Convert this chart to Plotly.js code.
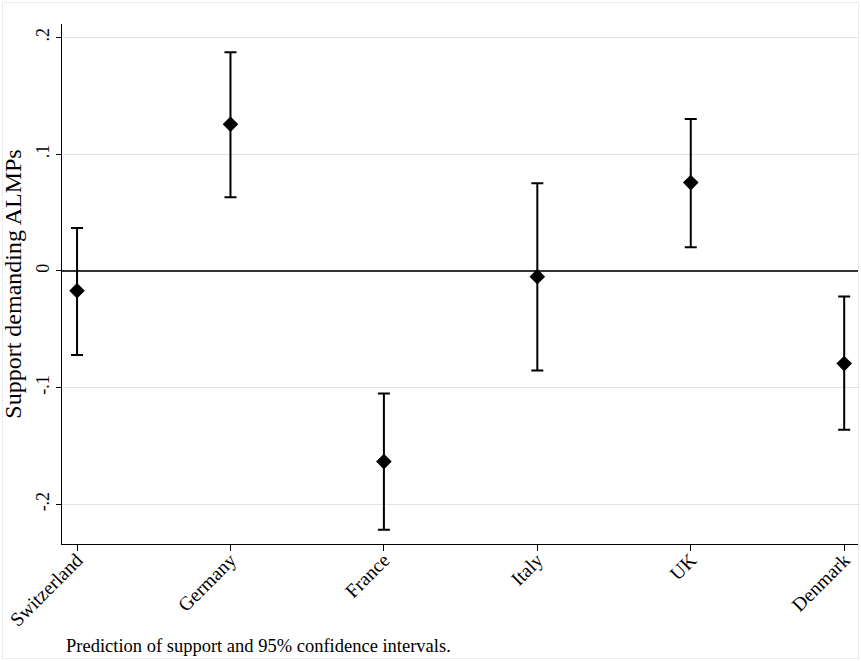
<!DOCTYPE html>
<html>
<head>
<meta charset="utf-8">
<script src="https://cdn.plot.ly/plotly-3.0.1.min.js"></script>
<style>
  body { margin: 0; padding: 0; background: #fff; }
  #wrap { position: relative; width: 861px; height: 661px; }
  #chart { width: 861px; height: 661px; }
  #frame { position: absolute; left: 2px; top: 2px; width: 855px; height: 655px;
           border: 1px dotted #d8d8d8; pointer-events: none; }
</style>
</head>
<body>
<div id="wrap">
  <div id="chart"></div>
  <div id="frame"></div>
</div>
<script>
const countries = ["Switzerland", "Germany", "France", "Italy", "UK", "Denmark"];
const prediction = [-0.017, 0.1257, -0.1634, -0.0049, 0.0757, -0.0794];
const upperCI = [0.0368, 0.1874, -0.1051, 0.0751, 0.1302, -0.0220];
const lowerCI = [-0.0720, 0.0631, -0.2217, -0.0854, 0.0203, -0.1360];
const yTickVals = [-0.2, -0.1, 0, 0.1, 0.2];
const yTickText = ["-.2", "-.1", "0", ".1", ".2"];
const yTitle = "Support demanding ALMPs";
const caption = "Prediction of support and 95% confidence intervals.";

const errPlus = upperCI.map((u, i) => u - prediction[i]);
const errMinus = lowerCI.map((l, i) => prediction[i] - l);

const font = "Liberation Serif, Times New Roman, serif";

const trace = {
  type: "scatter",
  mode: "markers",
  x: countries,
  y: prediction,
  marker: { symbol: "diamond", size: 12, color: "#000" },
  error_y: {
    type: "data",
    symmetric: false,
    array: errPlus,
    arrayminus: errMinus,
    color: "#000",
    thickness: 2,
    width: 6
  },
  hoverinfo: "x+y",
  showlegend: false
};

const layout = {
  width: 861,
  height: 661,
  margin: { l: 62, r: 3, t: 24, b: 117 },
  paper_bgcolor: "#fff",
  plot_bgcolor: "#fff",
  font: { family: font, color: "#000", size: 18 },
  showlegend: false,
  xaxis: {
    type: "category",
    range: [-0.098, 5.09],
    showgrid: false,
    zeroline: false,
    showline: true,
    linecolor: "#000",
    linewidth: 1,
    ticks: "outside",
    ticklen: 6,
    tickcolor: "#000",
    tickangle: -45,
    ticklabelstandoff: -10,
    tickfont: { family: font, size: 19.5, color: "#000" },
    fixedrange: true
  },
  yaxis: {
    range: [-0.234, 0.2116],
    tickvals: yTickVals,
    ticktext: yTickText,
    showgrid: true,
    gridcolor: "#e3e3e3",
    gridwidth: 1,
    zeroline: true,
    zerolinecolor: "#333",
    zerolinewidth: 1.5,
    showline: true,
    linecolor: "#000",
    linewidth: 1,
    ticks: "outside",
    ticklen: 5,
    tickcolor: "#000",
    tickangle: -90,
    tickfont: { family: font, size: 18, color: "#000" },
    title: { text: yTitle, font: { family: font, size: 24, color: "#000" }, standoff: 4 },
    fixedrange: true
  },
  annotations: [{
    text: caption,
    xref: "paper", yref: "paper",
    x: 0.0025, y: -0.219,
    xanchor: "left", yanchor: "bottom",
    showarrow: false,
    font: { family: font, size: 18.5, color: "#000" }
  }]
};

Plotly.newPlot("chart", [trace], layout, { displayModeBar: false, staticPlot: true });
</script>
</body>
</html>
